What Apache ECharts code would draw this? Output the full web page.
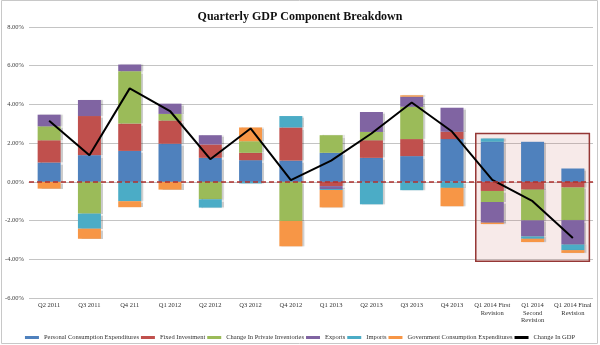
<!DOCTYPE html>
<html>
<head>
<meta charset="utf-8">
<script src="https://cdn.jsdelivr.net/npm/echarts@6/dist/echarts.min.js"></script>
<style>
  html, body { margin: 0; padding: 0; background: #fff; }
  #chart { width: 600px; height: 345px; }
</style>
</head>
<body>
<div id="chart"></div>
<script>
// Quarters shown on the category axis
const quarters = [
  'Q2 2011', 'Q3 2011', 'Q4 211', 'Q1 2012', 'Q2 2012', 'Q3 2012', 'Q4 2012',
  'Q1 2013', 'Q2 2013', 'Q3 2013', 'Q4 2013',
  'Q1 2014 First\nRevision', 'Q1 2014\nSecond\nRevision', 'Q1 2014 Final\nRevision'
];

// Contribution to GDP growth, percentage points
const personalConsumption = [1.00, 1.38, 1.60, 1.97, 1.24, 1.12, 1.10, 1.50, 1.24, 1.33, 2.21, 2.07, 2.07, 0.69];
const fixedInvestment     = [1.15, 2.02, 1.41, 1.20, 0.69, 0.38, 1.71, -0.22, 0.91, 0.88, 0.38, -0.47, -0.40, -0.29];
const privateInventories  = [0.72, -1.64, 2.71, 0.34, -0.90, 0.60, -2.02, 0.91, 0.43, 1.67, 0.00, -0.57, -1.59, -1.69];
const exportsContrib      = [0.60, 0.83, 0.34, 0.53, 0.48, 0.00, 0.00, -0.15, 1.03, 0.52, 1.24, -1.07, -0.83, -1.26];
const importsContrib      = [0.00, -0.78, -1.00, 0.00, -0.43, -0.08, 0.59, -0.05, -1.16, -0.43, -0.31, 0.17, -0.12, -0.29];
const governmentSpending  = [-0.35, -0.52, -0.31, -0.40, 0.00, 0.71, -1.31, -0.90, 0.00, 0.07, -0.95, -0.07, -0.17, -0.14];

// Headline real GDP change, %
const gdpChange = [3.16, 1.38, 4.83, 3.66, 1.17, 2.76, 0.09, 1.10, 2.50, 4.10, 2.60, 0.10, -1.00, -2.90];

// Value axis ticks
const yTicks = [-6, -4, -2, 0, 2, 4, 6, 8];

// Revision panel: first and last quarter it encloses, and its value extent
const revisionSpan = { from: 11, to: 13, top: 2.5, bottom: -4.1 };

const serif = '"Liberation Serif", "DejaVu Serif", serif';
const palette = ['#4F81BD', '#C0504D', '#9BBB59', '#8064A2', '#4BACC6', '#F79646'];

const components = [
  ['Personal Consumption Expenditures', personalConsumption],
  ['Fixed Investment', fixedInvestment],
  ['Change In Private Inventories', privateInventories],
  ['Exports', exportsContrib],
  ['Imports', importsContrib],
  ['Government Consumption Expenditures', governmentSpending]
];

const barSeries = components.map(([name, values], i) => ({
  name,
  type: 'bar',
  stack: 'gdp',
  barWidth: 23,
  data: values,
  itemStyle: {
    color: palette[i],
    shadowColor: 'rgba(0,0,0,0.2)',
    shadowBlur: 1,
    shadowOffsetX: 2,
    shadowOffsetY: 0
  },
  z: 3
}));

barSeries[0].markLine = {
  silent: true,
  symbol: 'none',
  label: { show: false },
  lineStyle: { color: '#B0302E', type: [5, 3], width: 1.5 },
  data: [{ yAxis: 0 }],
  z: 6
};

const chart = echarts.init(document.getElementById('chart'), null, { renderer: 'canvas' });

const option = {
  animation: false,
  color: palette.concat(['#000']),
  title: {
    text: 'Quarterly GDP Component Breakdown',
    left: 'center',
    top: 6,
    textStyle: { fontFamily: serif, fontSize: 12, fontWeight: 'bold', color: '#111' }
  },
  legend: {
    top: 329,
    left: 'center',
    itemWidth: 14,
    itemHeight: 3,
    itemGap: 2,
    textStyle: { fontFamily: serif, fontSize: 6.5, color: '#333' },
    data: components.map(c => ({ name: c[0], icon: 'rect' }))
      .concat([{ name: 'Change In GDP', icon: 'rect', itemStyle: { color: '#000' } }])
  },
  grid: { left: 29, right: 7, top: 27, bottom: 47 },
  xAxis: {
    type: 'category',
    data: quarters,
    axisTick: { show: false },
    axisLine: { show: true, lineStyle: { color: '#bfbfbf' } },
    axisLabel: {
      interval: 0,
      margin: 4,
      fontFamily: serif,
      fontSize: 6.5,
      lineHeight: 7.5,
      color: '#333'
    }
  },
  yAxis: {
    type: 'value',
    min: yTicks[0],
    max: yTicks[yTicks.length - 1],
    interval: 2,
    axisLine: { show: false },
    axisTick: { show: false },
    splitLine: { lineStyle: { color: '#c4c4c4', width: 1 } },
    axisLabel: {
      margin: 5,
      fontFamily: serif,
      fontSize: 6.5,
      color: '#404040',
      formatter: v => v.toFixed(2) + '%'
    }
  },
  series: barSeries.concat([{
    name: 'Change In GDP',
    type: 'line',
    data: gdpChange,
    symbol: 'none',
    lineStyle: { color: '#000', width: 2 },
    itemStyle: { color: '#000' },
    z: 5
  }])
};

chart.setOption(option);

// Outline the revision quarters using the axes' own scale
const c0 = chart.convertToPixel({ seriesIndex: 0 }, [revisionSpan.from, revisionSpan.top]);
const c1 = chart.convertToPixel({ seriesIndex: 0 }, [revisionSpan.to, revisionSpan.bottom]);
const step = chart.convertToPixel({ seriesIndex: 0 }, [1, 0])[0] - chart.convertToPixel({ seriesIndex: 0 }, [0, 0])[0];
const pad = step * 0.41;

chart.setOption({
  graphic: [
    {
      type: 'rect',
      z: 1,
      silent: true,
      shape: { x: c0[0] - pad, y: c0[1], width: (c1[0] - c0[0]) + 2 * pad, height: c1[1] - c0[1] },
      style: { fill: 'rgba(192,80,77,0.12)', stroke: '#953735', lineWidth: 1.5 }
    },
    {
      type: 'rect',
      z: 0,
      silent: true,
      shape: { x: 1.5, y: 0.5, width: 596, height: 343 },
      style: { fill: 'none', stroke: '#c8c8c8', lineWidth: 1 }
    }
  ]
});
</script>
</body>
</html>
